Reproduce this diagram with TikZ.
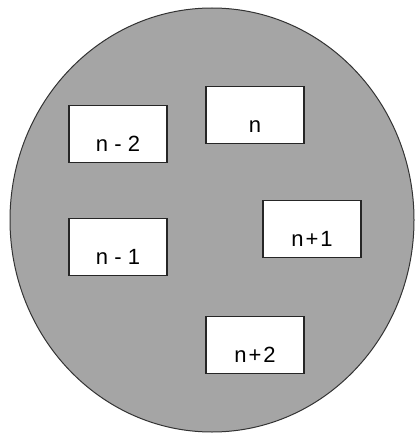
\documentclass[tikz,border=0pt]{standalone}
\usepackage{fontspec}
\setmainfont{Liberation Sans}
\definecolor{disc}{RGB}{165,165,165}
\begin{document}
\begin{tikzpicture}[x=1pt,y=-1pt,
  cell/.style={draw=black!85, line width=1.3pt, fill=white, rectangle,
    minimum width=98pt, minimum height=57pt, inner sep=0pt,
    text height=34pt, text depth=0pt, font=\fontsize{22}{26}\selectfont}]
\useasboundingbox (0,0) rectangle (415,433);
\draw[fill=disc, draw=black!80, line width=1pt] (212,220) ellipse [x radius=202, y radius=212];
\node[cell] (nm2) at (118,134) {n - 2};
\node[cell] (n)   at (255,115) {n};
\node[cell] (nm1) at (118,247) {n - 1};
\node[cell] (np1) at (312,229) {n\kern2pt+\kern2pt1};
\node[cell] (np2) at (255,345) {n\kern2pt+\kern2pt2};
\end{tikzpicture}
\end{document}
